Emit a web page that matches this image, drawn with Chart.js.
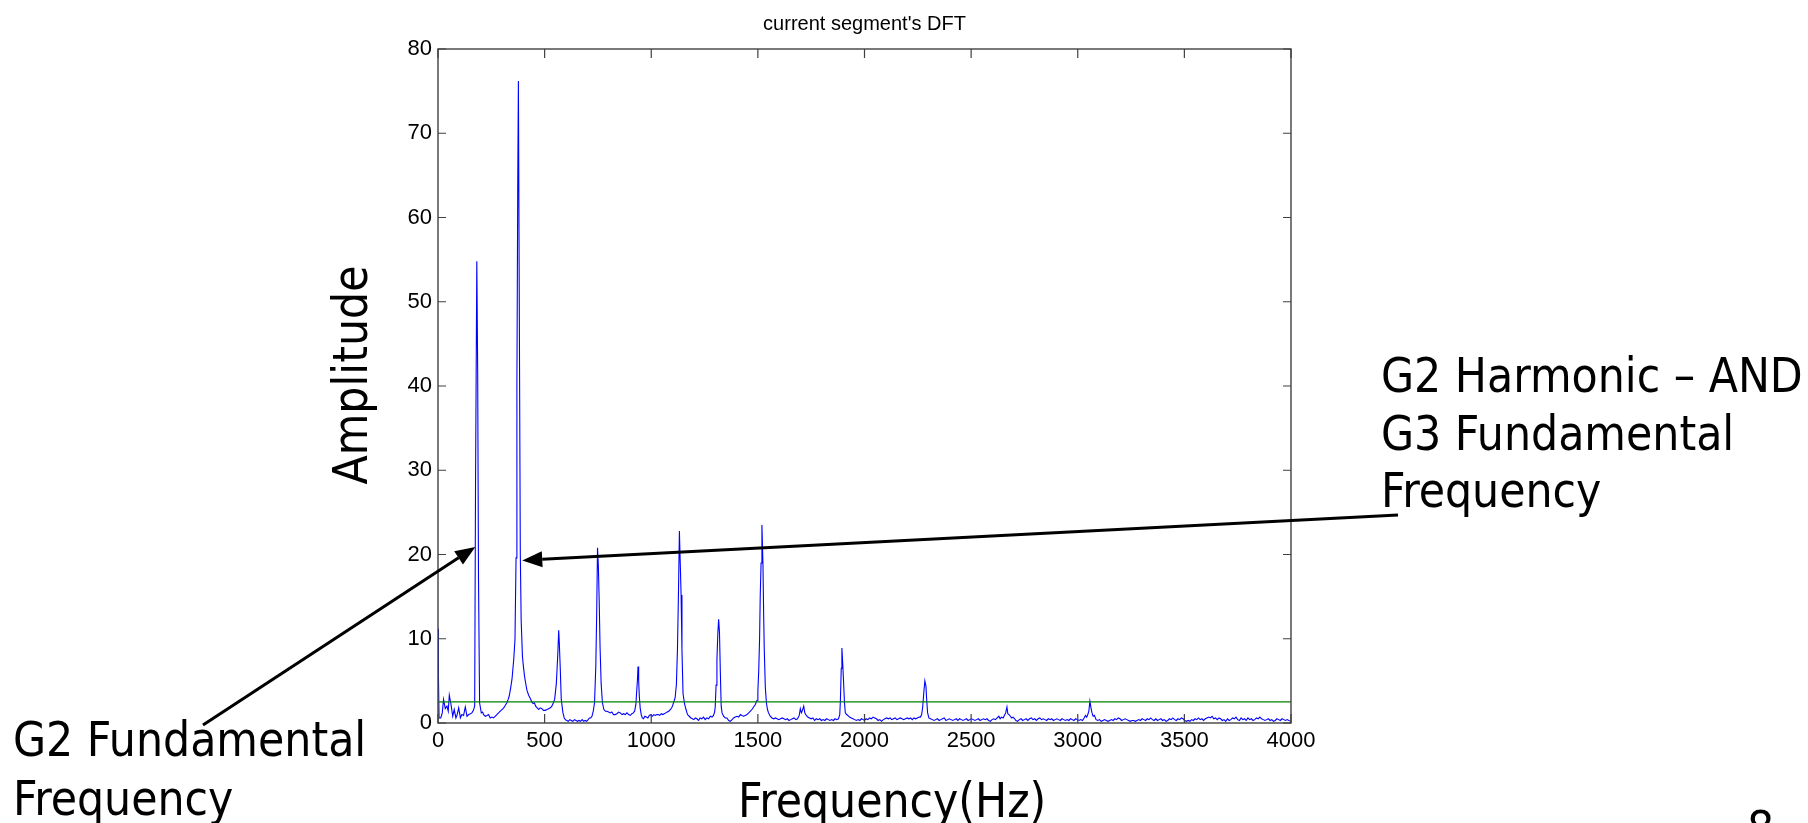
<!DOCTYPE html>
<html>
<head>
<meta charset="utf-8">
<script src="https://cdn.jsdelivr.net/npm/chart.js@4.4.1/dist/chart.umd.min.js"></script>
<style>
  html, body { margin: 0; padding: 0; background: #ffffff; }
  #wrap { width: 1808px; height: 823px; position: relative; }
</style>
</head>
<body>
<div id="wrap"><canvas id="c" width="1808" height="823"></canvas></div>
<script>
// ---------------- DATA ----------------
const chartTitle = "current segment's DFT";
const xAxisTitle = "Frequency(Hz)";
const yAxisTitle = "Amplitude";
const xTickValues = [0, 500, 1000, 1500, 2000, 2500, 3000, 3500, 4000];
const yTickValues = [0, 10, 20, 30, 40, 50, 60, 70, 80];

const freqHz = [
0,2,5,13,20,26,34,42,48,53,61,69,76,84,90,97,105,112,120,128,136,144,152,159,166,172,176,182,186,190,195,
203,209,214,222,230,237,245,253,261,268,276,284,292,300,308,316,323,329,334,341,347,355,361,366,370,374,377,382,386,390,396,
401,406,412,417,425,433,440,446,452,458,465,472,479,487,495,503,511,519,527,534,541,547,555,562,566,569,573,578,586,592,597,
604,611,618,625,632,640,647,654,661,668,676,683,690,697,704,710,716,722,728,734,740,744,748,752,756,760,765,771,778,785,792,
800,808,815,823,831,839,847,855,863,870,878,886,894,902,909,916,922,928,931,935,938,941,944,948,953,958,964,970,977,984,991,998,
1005,1012,1019,1026,1033,1040,1047,1054,1061,1068,1075,1082,1089,1096,1102,1107,1112,1118,1123,1128,1132,1136,1140,1144,1149,1156,1163,1170,1178,1186,1193,
1200,1207,1214,1222,1229,1237,1245,1253,1261,1269,1277,1285,1292,1297,1300,1304,1308,1312,1316,1320,1324,1328,1332,1339,1347,1355,1363,1371,1379,1386,1394,
1402,1410,1418,1425,1433,1441,1449,1457,1465,1472,1480,1488,1496,1500,1504,1508,1511,1515,1519,1524,1527,1530,1535,1540,1545,1550,1558,1566,1574,1582,1590,1598,
1606,1614,1622,1630,1638,1646,1654,1662,1670,1678,1686,1694,1699,1704,1709,1715,1720,1727,1734,1742,1750,1758,1766,1774,1782,1790,1798,
1806,1814,1822,1830,1838,1846,1854,1862,1870,1878,1884,1887,1891,1894,1898,1902,1906,1910,1916,1922,1930,1938,1946,1954,1962,1970,1978,1986,1994,
2000,2008,2016,2024,2032,2040,2048,2056,2064,2072,2080,2088,2096,2104,2112,2120,2128,2136,2144,2152,2160,2168,2176,2184,2192,
2200,2208,2216,2224,2232,2240,2248,2256,2262,2268,2273,2278,2283,2288,2292,2296,2302,2310,2318,2326,2334,2342,2350,2358,2366,2374,2382,2390,2398,
2406,2414,2422,2430,2438,2446,2454,2462,2470,2478,2486,2494,2502,2510,2518,2526,2534,2542,2550,2558,2566,2574,2582,2590,2598,
2606,2614,2622,2630,2636,2642,2650,2656,2662,2668,2672,2678,2684,2690,2697,2704,2710,2718,2726,2734,2742,2750,2758,2766,2774,2782,2790,2798,
2806,2814,2822,2830,2838,2846,2854,2862,2870,2878,2886,2894,2902,2910,2918,2926,2934,2942,2950,2958,2966,2974,2982,2990,2998,
3006,3014,3022,3030,3036,3042,3047,3052,3057,3062,3067,3072,3078,3086,3094,3102,3110,3118,3126,3134,3142,3150,3158,3166,3174,3182,3190,3198,
3206,3214,3222,3230,3238,3246,3254,3262,3270,3278,3286,3294,3302,3310,3318,3326,3334,3342,3350,3358,3366,3374,3382,3390,3398,
3406,3414,3422,3430,3438,3446,3454,3462,3470,3478,3486,3494,3502,3510,3518,3526,3534,3542,3550,3558,3566,3574,3582,3590,3598,
3606,3614,3622,3630,3638,3646,3654,3662,3670,3678,3686,3694,3702,3710,3718,3726,3734,3742,3750,3758,3766,3774,3782,3790,3798,
3806,3814,3822,3830,3838,3846,3854,3862,3870,3878,3886,3894,3902,3910,3918,3926,3934,3942,3950,3958,3966,3974,3982,3990,4000
];

const amplitude = [
11.2,5.7,0.6,0.6,1.2,2.8,1.7,2.0,1.4,3.3,2.2,0.8,1.6,0.6,1.0,1.8,0.6,1.0,0.9,1.9,0.8,1.0,1.1,1.2,1.5,2.0,28.4,54.8,42.0,17.0,2.4,
1.2,1.3,1.0,0.8,0.9,1.0,0.6,0.7,0.6,0.8,1.0,1.2,1.4,1.6,1.8,2.1,2.4,2.8,3.2,4.2,5.2,7.5,9.9,19.6,40.0,64.2,76.2,44.6,20.0,12.2,7.9,
6.6,5.5,4.6,3.9,3.3,2.9,2.5,2.3,2.4,2.0,1.8,1.6,1.8,1.7,1.5,1.5,1.6,1.7,1.8,2.0,2.4,2.8,4.7,8.3,11.0,9.4,6.7,2.8,1.2,0.6,0.4,
0.3,0.2,0.4,0.3,0.2,0.4,0.3,0.2,0.3,0.2,0.4,0.2,0.3,0.2,0.4,0.6,0.6,0.8,1.4,2.4,6.7,12.7,20.8,18.6,14.4,9.0,4.7,2.4,1.6,1.4,1.4,
1.3,1.2,1.3,1.0,1.0,1.1,1.3,1.2,1.0,1.1,1.0,1.2,1.0,0.9,1.1,1.2,1.4,2.2,3.5,5.0,6.7,5.0,3.2,1.8,1.0,0.6,0.5,0.8,0.7,0.6,0.9,1.0,
0.8,1.0,0.9,1.0,1.0,0.9,1.1,1.0,1.1,1.2,1.3,1.4,1.6,1.8,2.2,2.6,3.0,4.6,8.8,16.0,22.8,19.0,15.2,8.7,3.5,2.3,1.6,1.0,0.8,0.6,0.5,
0.4,0.6,0.5,0.3,0.6,0.5,0.7,0.4,0.6,0.5,0.8,0.7,0.9,1.3,1.9,4.5,7.5,10.5,12.3,10.7,6.0,2.0,1.2,0.8,0.6,0.6,0.3,0.2,0.4,0.6,0.7,
0.8,0.7,1.0,0.9,0.8,0.9,1.0,1.2,1.4,1.6,1.9,2.2,2.7,3.8,6.2,10.0,15.0,19.0,23.5,18.6,13.0,8.7,4.2,2.4,1.6,1.2,0.8,0.6,0.5,0.6,0.5,0.4,
0.5,0.6,0.5,0.4,0.5,0.3,0.4,0.5,0.6,0.4,0.5,0.9,1.7,1.2,1.5,2.0,1.2,0.9,0.7,0.6,0.5,0.6,0.3,0.5,0.4,0.5,0.3,
0.4,0.3,0.5,0.4,0.3,0.4,0.3,0.5,0.4,0.5,1.0,2.7,6.5,8.9,7.0,4.8,2.5,1.2,1.0,0.9,0.7,0.6,0.5,0.4,0.3,0.4,0.3,0.5,0.4,
0.3,0.5,0.4,0.6,0.5,0.7,0.6,0.5,0.3,0.4,0.2,0.4,0.5,0.6,0.5,0.6,0.4,0.5,0.6,0.4,0.5,0.6,0.5,0.4,0.5,
0.6,0.5,0.6,0.4,0.6,0.5,0.6,0.7,0.7,1.0,1.9,3.6,5.0,4.4,2.6,1.2,0.6,0.5,0.4,0.3,0.4,0.5,0.3,0.4,0.5,0.6,0.3,0.4,0.5,
0.4,0.3,0.4,0.5,0.3,0.5,0.4,0.3,0.4,0.5,0.3,0.4,0.5,0.4,0.3,0.4,0.5,0.3,0.4,0.5,0.4,0.5,0.3,0.2,0.4,
0.5,0.4,0.6,0.8,0.5,0.7,0.6,0.9,1.2,1.9,1.1,1.0,0.8,0.6,0.7,0.5,0.3,0.2,0.4,0.5,0.3,0.4,0.5,0.3,0.5,0.6,0.4,0.5,
0.3,0.5,0.6,0.4,0.5,0.4,0.3,0.5,0.4,0.5,0.3,0.4,0.5,0.4,0.3,0.5,0.4,0.3,0.4,0.3,0.5,0.4,0.3,0.5,0.4,
0.3,0.4,0.3,0.6,0.9,0.7,1.0,1.4,2.6,1.8,1.2,0.8,0.9,0.4,0.3,0.4,0.2,0.3,0.4,0.3,0.2,0.3,0.4,0.3,0.5,0.4,0.6,0.5,
0.3,0.4,0.5,0.4,0.3,0.2,0.3,0.3,0.2,0.3,0.4,0.3,0.5,0.4,0.3,0.5,0.4,0.6,0.4,0.3,0.5,0.3,0.4,0.5,0.3,
0.4,0.2,0.3,0.5,0.4,0.6,0.4,0.3,0.5,0.4,0.6,0.5,0.3,0.2,0.3,0.2,0.4,0.3,0.5,0.4,0.6,0.4,0.5,0.3,0.5,
0.6,0.7,0.6,0.8,0.5,0.6,0.4,0.6,0.5,0.3,0.4,0.2,0.5,0.3,0.4,0.6,0.5,0.7,0.4,0.3,0.6,0.4,0.5,0.3,0.6,
0.4,0.5,0.3,0.4,0.6,0.5,0.7,0.5,0.4,0.3,0.4,0.5,0.3,0.4,0.2,0.3,0.5,0.4,0.3,0.5,0.4,0.3,0.4,0.3,0.2
];

const thresholdHz = [0, 4000];
const thresholdAmp = [2.5, 2.5];

// annotation texts
const rightNote = ["G2 Harmonic \u2013 AND", "G3 Fundamental", "Frequency"];
const leftNote = ["G2 Fundamental", "Frequency"];
const pageNumber = "8";
// arrow tips in data units (Hz, amplitude)
const arrowTipFund = [175, 20.9];
const arrowTipHarm = [395, 19.3];

// ---------------- BUILD ----------------
const spectrum = freqHz.map((f, i) => ({ x: f, y: amplitude[i] }));
const threshold = thresholdHz.map((f, i) => ({ x: f, y: thresholdAmp[i] }));

const BIG_FONT = '47.5px "DejaVu Sans Condensed", "DejaVu Sans", sans-serif';
const TICK_FONT = { family: '"Liberation Sans", Arial, sans-serif', size: 22 };

function arrow(ctx, x0, y0, x1, y1) {
  const ang = Math.atan2(y1 - y0, x1 - x0);
  const hl = 20, hw = 8;
  const bx = x1 - hl * Math.cos(ang), by = y1 - hl * Math.sin(ang);
  ctx.beginPath();
  ctx.moveTo(x0, y0);
  ctx.lineTo(bx, by);
  ctx.lineWidth = 3;
  ctx.strokeStyle = '#000';
  ctx.stroke();
  ctx.beginPath();
  ctx.moveTo(x1, y1);
  ctx.lineTo(bx + hw * Math.sin(ang), by - hw * Math.cos(ang));
  ctx.lineTo(bx - hw * Math.sin(ang), by + hw * Math.cos(ang));
  ctx.closePath();
  ctx.fillStyle = '#000';
  ctx.fill();
}

const framePlugin = {
  id: 'frame',
  afterDatasetsDraw(chart) {
    const { ctx, chartArea: a, scales: { x, y } } = chart;
    ctx.save();
    ctx.strokeStyle = '#404040';
    ctx.lineWidth = 1.4;
    ctx.strokeRect(a.left, a.top, a.right - a.left, a.bottom - a.top);
    ctx.lineWidth = 1.2;
    ctx.beginPath();
    xTickValues.forEach(v => {
      const px = x.getPixelForValue(v);
      ctx.moveTo(px, a.bottom); ctx.lineTo(px, a.bottom - 9);
      ctx.moveTo(px, a.top); ctx.lineTo(px, a.top + 9);
    });
    yTickValues.forEach(v => {
      const py = y.getPixelForValue(v);
      ctx.moveTo(a.left, py); ctx.lineTo(a.left + 8, py);
      ctx.moveTo(a.right, py); ctx.lineTo(a.right - 8, py);
    });
    ctx.stroke();
    ctx.restore();
  },
  afterDraw(chart) {
    const { ctx, chartArea: a, scales: { x, y } } = chart;
    ctx.save();
    ctx.fillStyle = '#000';
    ctx.font = '20px "Liberation Sans", Arial, sans-serif';
    ctx.textAlign = 'center';
    ctx.textBaseline = 'alphabetic';
    ctx.fillText(chartTitle, (a.left + a.right) / 2, 30);

    ctx.font = BIG_FONT;
    ctx.textAlign = 'left';
    ctx.fillText(xAxisTitle, 738, 817);
    rightNote.forEach((t, i) => ctx.fillText(t, 1381, 392 + i * 57.5));
    leftNote.forEach((t, i) => ctx.fillText(t, 13, 756 + i * 59));
    ctx.fillText(pageNumber, 1747, 845);

    ctx.save();
    ctx.translate(367, 375);
    ctx.rotate(-Math.PI / 2);
    ctx.textAlign = 'center';
    ctx.fillText(yAxisTitle, 0, 0);
    ctx.restore();

    arrow(ctx, 203, 725, x.getPixelForValue(arrowTipFund[0]), y.getPixelForValue(arrowTipFund[1]));
    arrow(ctx, 1398, 515, x.getPixelForValue(arrowTipHarm[0]), y.getPixelForValue(arrowTipHarm[1]));
    ctx.restore();
  }
};

new Chart(document.getElementById('c'), {
  type: 'line',
  data: {
    datasets: [
      { label: 'threshold', data: threshold, borderColor: '#008000', borderWidth: 1.3,
        pointRadius: 0, fill: false, tension: 0 },
      { label: 'DFT', data: spectrum, borderColor: '#0000ff', borderWidth: 1.1,
        pointRadius: 0, fill: false, tension: 0 }
    ]
  },
  options: {
    responsive: false,
    animation: false,
    events: [],
    layout: { padding: { left: 0, right: 517, top: 49, bottom: 0 } },
    plugins: { legend: { display: false }, tooltip: { enabled: false }, title: { display: false } },
    scales: {
      x: {
        type: 'linear', min: 0, max: 4000,
        afterBuildTicks: s => { s.ticks = xTickValues.map(v => ({ value: v })); },
        ticks: { font: TICK_FONT, color: '#000', padding: 5, maxRotation: 0, autoSkip: false,
                 callback: v => String(v) },
        grid: { display: false, drawTicks: false },
        border: { display: false },
        afterFit: s => { s.height = 100; }
      },
      y: {
        type: 'linear', min: 0, max: 80,
        afterBuildTicks: s => { s.ticks = yTickValues.map(v => ({ value: v })); },
        ticks: { font: TICK_FONT, color: '#000', padding: 6, autoSkip: false,
                 callback: v => String(v) },
        grid: { display: false, drawTicks: false },
        border: { display: false },
        afterFit: s => { s.width = 438; }
      }
    }
  },
  plugins: [framePlugin]
});
</script>
</body>
</html>
